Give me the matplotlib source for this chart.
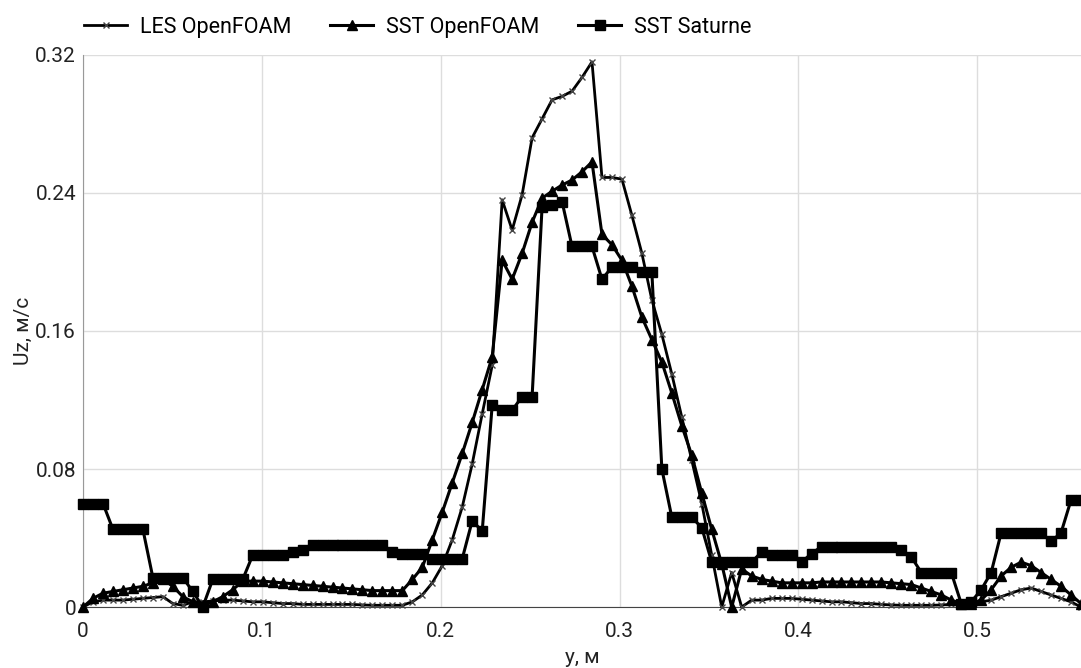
import matplotlib
matplotlib.use("Agg")
from matplotlib import pyplot as plt
import numpy as np

plt.rcParams['font.family'] = ['Roboto', 'DejaVu Sans']

# probe positions along y, m (101 points)
y_pos = np.linspace(0, 0.558, 101)

les_openfoam = [
    0.0, 0.003, 0.004, 0.004, 0.004, 0.0045, 0.005, 0.0055, 0.006, 0.002,
    0.001, 0.003, 0.003, 0.0035, 0.004, 0.004, 0.0035, 0.003, 0.003, 0.0025,
    0.002, 0.002, 0.0015, 0.0015, 0.0015, 0.0015, 0.0015, 0.0015, 0.0012, 0.001,
    0.001, 0.001, 0.001, 0.003, 0.007, 0.014, 0.024, 0.039, 0.058, 0.083,
    0.112, 0.140, 0.236, 0.2185, 0.239, 0.272, 0.283, 0.294, 0.296, 0.299,
    0.307, 0.316, 0.249, 0.249, 0.248, 0.227, 0.205, 0.178, 0.158, 0.135,
    0.110, 0.085, 0.060, 0.030, 0.0, 0.020, 0.0, 0.004, 0.004, 0.005,
    0.005, 0.005, 0.0045, 0.004, 0.0035, 0.003, 0.003, 0.0025, 0.002, 0.002,
    0.0015, 0.0012, 0.001, 0.001, 0.001, 0.001, 0.0012, 0.0015, 0.002, 0.002,
    0.003, 0.004, 0.006, 0.008, 0.010, 0.011, 0.009, 0.007, 0.005, 0.003,
    0.0,
]

sst_openfoam = [
    0.0, 0.005, 0.008, 0.009, 0.010, 0.011, 0.012, 0.014, 0.016, 0.012,
    0.006, 0.003, 0.001, 0.003, 0.006, 0.010, 0.015, 0.015, 0.015, 0.0145,
    0.014, 0.0135, 0.013, 0.0125, 0.012, 0.0115, 0.011, 0.0105, 0.010, 0.0095,
    0.0095, 0.0095, 0.0095, 0.016, 0.023, 0.039, 0.055, 0.072, 0.089, 0.107,
    0.126, 0.145, 0.201, 0.190, 0.205, 0.223, 0.237, 0.241, 0.2446, 0.2475,
    0.2523, 0.258, 0.216, 0.210, 0.201, 0.186, 0.168, 0.155, 0.142, 0.124,
    0.105, 0.088, 0.066, 0.045, 0.025, 0.0, 0.022, 0.018, 0.016, 0.015,
    0.014, 0.014, 0.014, 0.014, 0.0145, 0.0145, 0.0145, 0.0145, 0.0145, 0.0145,
    0.0145, 0.014, 0.0135, 0.013, 0.011, 0.009, 0.007, 0.004, 0.002, 0.002,
    0.004, 0.010, 0.018, 0.023, 0.026, 0.024, 0.020, 0.016, 0.012, 0.007,
    0.002,
]

sst_saturne = [
    0.060, 0.060, 0.060, 0.045, 0.045, 0.045, 0.045, 0.017, 0.017, 0.017,
    0.017, 0.009, 0.0, 0.016, 0.016, 0.016, 0.016, 0.030, 0.030, 0.030,
    0.030, 0.032, 0.033, 0.036, 0.036, 0.036, 0.036, 0.036, 0.036, 0.036,
    0.036, 0.032, 0.031, 0.031, 0.031, 0.028, 0.028, 0.028, 0.028, 0.050,
    0.044, 0.117, 0.114, 0.114, 0.122, 0.122, 0.232, 0.233, 0.235, 0.209,
    0.209, 0.209, 0.190, 0.197, 0.197, 0.197, 0.194, 0.194, 0.080, 0.052,
    0.052, 0.052, 0.046, 0.026, 0.026, 0.026, 0.026, 0.026, 0.032, 0.030,
    0.030, 0.030, 0.026, 0.031, 0.035, 0.035, 0.035, 0.035, 0.035, 0.035,
    0.035, 0.035, 0.033, 0.029, 0.020, 0.020, 0.020, 0.020, 0.002, 0.003,
    0.010, 0.020, 0.043, 0.043, 0.043, 0.043, 0.043, 0.038, 0.043, 0.062,
    0.062,
]

x_ticks = [0, 0.1, 0.2, 0.3, 0.4, 0.5]
x_tick_labels = ['0', '0.1', '0.2', '0.3', '0.4', '0.5']
y_ticks = [0, 0.08, 0.16, 0.24, 0.32]
y_tick_labels = ['0', '0.08', '0.16', '0.24', '0.32']

fig = plt.figure(figsize=(10.81, 6.68), dpi=100)
ax = fig.add_axes([0.0768, 0.0913, 0.9232, 0.8264])

ax.plot(y_pos, les_openfoam, color='black', lw=2, marker='x', ms=5,
        mew=1, mec='#444444', label='LES OpenFOAM', clip_on=False, zorder=3)
ax.plot(y_pos, sst_openfoam, color='black', lw=2.2, marker='^', ms=6.5,
        label='SST OpenFOAM', clip_on=False, zorder=3)
ax.plot(y_pos, sst_saturne, color='black', lw=2.2, marker='s', ms=7.5,
        label='SST Saturne', clip_on=False, zorder=3)

ax.set_xlim(0, 0.558)
ax.set_ylim(0, 0.32)
ax.set_xticks(x_ticks)
ax.set_xticklabels(x_tick_labels)
ax.set_yticks(y_ticks)
ax.set_yticklabels(y_tick_labels)
ax.tick_params(axis='x', length=0, labelsize=15, colors='#222222', pad=11)
ax.tick_params(axis='y', length=0, labelsize=15, colors='#222222', pad=5)
ax.grid(True, color='#dddddd', lw=1)
ax.set_axisbelow(True)
for s in ['top', 'right']:
    ax.spines[s].set_visible(False)
ax.spines['left'].set_color('#999999')
ax.spines['bottom'].set_color('#444444')

ax.set_xlabel('y, м', fontsize=15, color='#222222', labelpad=5)
ax.set_ylabel('Uz, м/с', fontsize=15, color='#222222', labelpad=2)

fig.legend(loc='upper left', bbox_to_anchor=(0.060, 1.004), ncol=3,
           frameon=False, fontsize=15.5, handlelength=2.0, columnspacing=1.8,
           handletextpad=0.6)

fig.savefig('out.png', dpi=100)
